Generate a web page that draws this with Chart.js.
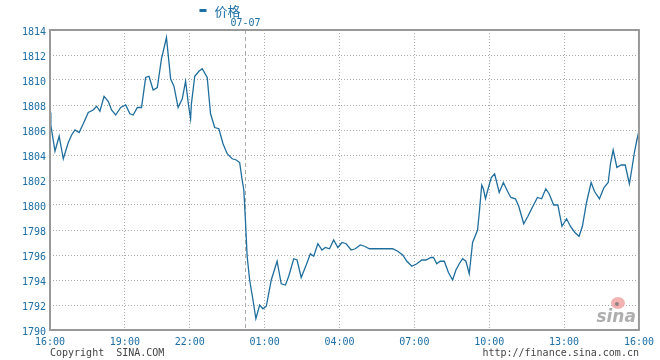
<!DOCTYPE html>
<html>
<head>
<meta charset="utf-8">
<script src="https://cdn.jsdelivr.net/npm/chart.js"></script>
<style>
  html, body { margin: 0; padding: 0; background: #fff; }
  #wrap { width: 660px; height: 360px; }
</style>
</head>
<body>
<div id="wrap"><canvas id="chart" width="660" height="360"></canvas></div>
<script>
// minutes of trading since 16:00 (the 19:00-22:00 stretch is shorter on this chart)
const minutes = [
  0, 2, 12, 22, 32, 44, 52, 60, 70, 80, 92, 104, 112, 120, 130, 140, 148, 158, 170, 182,
  192, 200, 210, 220, 230, 238, 248, 258, 268, 280, 290, 298, 308, 318, 326, 333, 338, 340, 348, 358,
  366, 378, 386, 396, 406, 416, 426, 438, 448, 456, 462, 466, 470, 474, 480, 488, 495, 504, 512, 520,
  532, 546, 556, 566, 574, 586, 594, 604, 616, 626, 634, 644, 654, 662, 672, 682, 692, 702, 712, 724,
  734, 746, 756, 768, 824, 836, 848, 858, 870, 882, 894, 904, 916, 922, 930, 938, 948, 958, 968, 976,
  984, 992, 1000, 1008, 1016, 1028, 1033, 1038, 1042, 1047, 1055, 1061, 1069, 1080, 1090, 1100, 1108, 1119, 1127, 1139,
  1149, 1161, 1172, 1182, 1192, 1200, 1211, 1221, 1231, 1242, 1251, 1262, 1272, 1280, 1290, 1301, 1309, 1321, 1332, 1342,
  1348, 1354, 1363, 1373, 1383, 1393, 1399, 1405, 1411, 1416
];
const prices = [
  1807.4, 1806.4, 1804.3, 1805.5, 1803.7, 1805.0, 1805.6, 1806.0, 1805.8, 1806.5, 1807.4, 1807.6, 1807.9, 1807.5, 1808.7, 1808.3, 1807.6, 1807.2, 1807.8, 1808.0,
  1807.3, 1807.2, 1807.8, 1807.8, 1810.2, 1810.3, 1809.2, 1809.4, 1811.7, 1813.4, 1810.1, 1809.5, 1807.8, 1808.5, 1809.9, 1808.0, 1806.9, 1808.1, 1810.3, 1810.7,
  1810.9, 1810.2, 1807.3, 1806.2, 1806.1, 1804.9, 1804.1, 1803.7, 1803.6, 1803.4, 1802.0, 1801.2, 1798.7, 1795.9, 1794.0, 1792.4, 1790.9, 1792.0, 1791.7, 1791.9,
  1794.0, 1795.5, 1793.7, 1793.6, 1794.3, 1795.7, 1795.6, 1794.2, 1795.2, 1796.1, 1795.9, 1796.9, 1796.4, 1796.6, 1796.5, 1797.2, 1796.6, 1797.0, 1796.9, 1796.4,
  1796.5, 1796.8, 1796.7, 1796.5, 1796.5, 1796.3, 1796.0, 1795.5, 1795.1, 1795.3, 1795.6, 1795.6, 1795.8, 1795.8, 1795.3, 1795.5, 1795.5, 1794.6, 1794.0, 1794.8,
  1795.3, 1795.7, 1795.5, 1794.5, 1797.0, 1798.0, 1799.7, 1801.6, 1801.3, 1800.5, 1801.5, 1802.2, 1802.5, 1801.0, 1801.8, 1801.1, 1800.6, 1800.5, 1799.9, 1798.5,
  1799.1, 1799.9, 1800.6, 1800.5, 1801.3, 1800.9, 1800.0, 1800.0, 1798.3, 1798.9, 1798.3, 1797.8, 1797.5, 1798.3, 1800.2, 1801.8, 1801.1, 1800.5, 1801.4, 1801.8,
  1803.4, 1804.4, 1803.0, 1803.2, 1803.2, 1801.7, 1802.9, 1804.2, 1805.2, 1805.9
];

const tickMinutes = [0, 180, 336, 516, 696, 876, 1056, 1236, 1416];
const tickLabels = ['16:00', '19:00', '22:00', '01:00', '04:00', '07:00', '10:00', '13:00', '16:00'];
const priceMin = 1790, priceMax = 1814, priceStep = 2;
const dayBreak = 470;          // session change, marked by the dashed line
const dayLabel = '07-07';
const seriesName = '价格';

const blue = '#1c6ea4';
const mono = '"DejaVu Sans Mono", monospace';

// frame, dashed day line, legend and footer texts
const decor = {
  id: 'decor',
  beforeDatasetsDraw(chart) {
    const { ctx, chartArea: a, scales } = chart;
    const x = Math.round(scales.x.getPixelForValue(dayBreak)) + 0.5;
    ctx.save();
    ctx.strokeStyle = '#aaa';
    ctx.lineWidth = 1;
    ctx.setLineDash([4, 3]);
    ctx.beginPath();
    ctx.moveTo(x, a.top);
    ctx.lineTo(x, a.bottom);
    ctx.stroke();
    ctx.restore();

    // sina watermark, under the line
    ctx.save();
    ctx.globalAlpha = 0.8;
    ctx.fillStyle = '#f0a0a0';
    ctx.beginPath();
    ctx.ellipse(a.right - 21, a.bottom - 27, 7, 6, 0, 0, Math.PI * 2);
    ctx.fill();
    ctx.fillStyle = '#777';
    ctx.beginPath();
    ctx.arc(a.right - 22, a.bottom - 26, 2, 0, Math.PI * 2);
    ctx.fill();
    ctx.fillStyle = '#9a9a9a';
    ctx.font = 'italic bold 17px "DejaVu Sans", sans-serif';
    ctx.textAlign = 'right';
    ctx.textBaseline = 'alphabetic';
    ctx.fillText('sina', a.right - 3, a.bottom - 8);
    ctx.restore();
  },
  afterDraw(chart) {
    const { ctx, chartArea: a, scales } = chart;
    ctx.save();
    ctx.strokeStyle = '#999';
    ctx.lineWidth = 2;
    ctx.strokeRect(a.left, a.top, a.right - a.left, a.bottom - a.top);

    const bx = scales.x.getPixelForValue(dayBreak);
    // legend
    ctx.fillStyle = blue;
    ctx.fillRect(bx - 46, 9, 7, 3);
    ctx.font = '13px "Noto Sans CJK SC", sans-serif';
    ctx.textBaseline = 'middle';
    ctx.fillText(seriesName, bx - 31, 11);
    ctx.font = '10px ' + mono;
    ctx.textAlign = 'center';
    ctx.fillText(dayLabel, bx, 23);

    // footer
    ctx.fillStyle = '#444';
    ctx.textAlign = 'left';
    ctx.fillText('Copyright  SINA.COM', a.left, 353);
    ctx.textAlign = 'right';
    ctx.fillText('http://finance.sina.com.cn', a.right, 353);
    ctx.restore();
  }
};

new Chart(document.getElementById('chart'), {
  type: 'line',
  data: {
    datasets: [{
      label: seriesName,
      data: minutes.map((m, i) => ({ x: m, y: prices[i] })),
      borderColor: '#1f6e9e',
      borderWidth: 1.3,
      pointRadius: 0,
      tension: 0,
      fill: false
    }]
  },
  options: {
    responsive: false,
    animation: false,
    layout: { padding: { top: 30, right: 20, left: 0, bottom: 0 } },
    plugins: { legend: { display: false }, tooltip: { enabled: false } },
    scales: {
      x: {
        type: 'linear',
        min: tickMinutes[0],
        max: tickMinutes[tickMinutes.length - 1],
        afterBuildTicks: s => { s.ticks = tickMinutes.map(v => ({ value: v })); },
        afterFit: s => { s.height = 30; },
        grid: { color: '#aaa', lineWidth: 1, drawTicks: false },
        border: { display: false, dash: [1, 2] },
        ticks: {
          autoSkip: false, maxRotation: 0, padding: 6,
          color: blue, font: { family: mono, size: 10 },
          callback: v => tickLabels[tickMinutes.indexOf(v)]
        }
      },
      y: {
        min: priceMin,
        max: priceMax,
        afterFit: s => { s.width = 50; },
        grid: { color: '#aaa', lineWidth: 1, drawTicks: false },
        border: { display: false, dash: [1, 2] },
        ticks: {
          stepSize: priceStep, padding: 4, labelOffset: 2,
          color: blue, font: { family: mono, size: 10 },
          callback: v => String(v)
        }
      }
    }
  },
  plugins: [decor]
});
</script>
</body>
</html>
